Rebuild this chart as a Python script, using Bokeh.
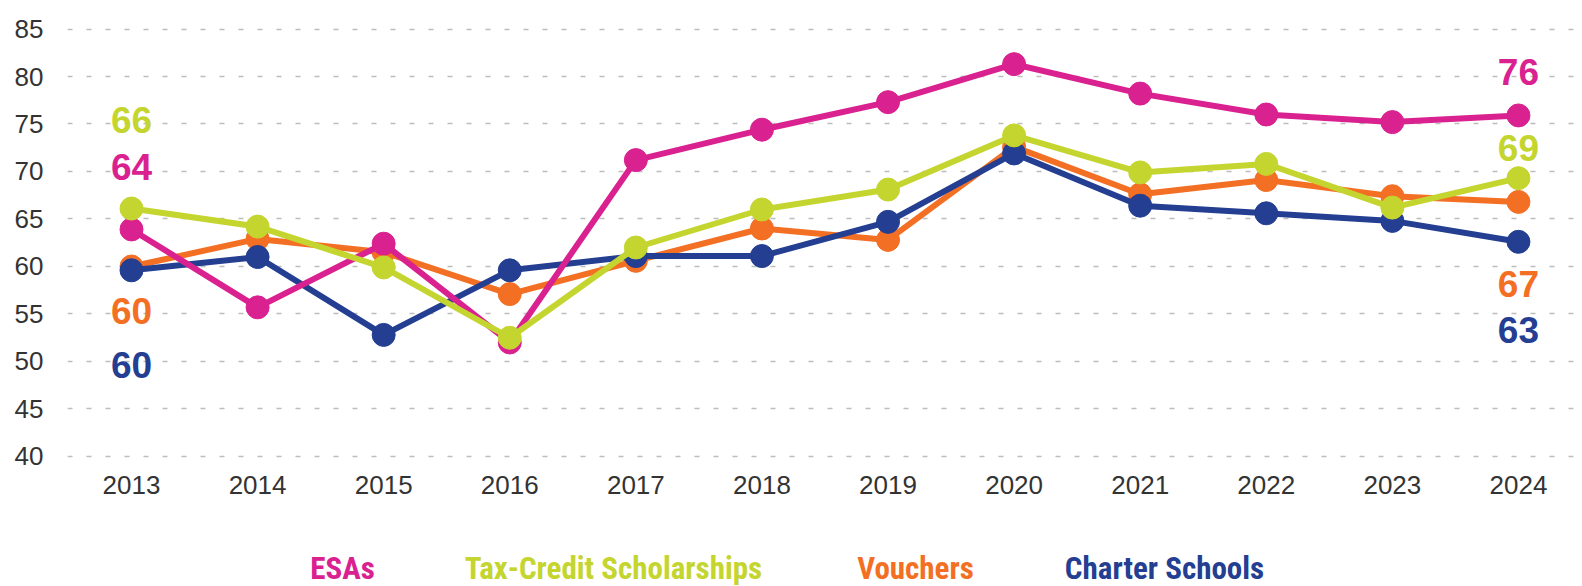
from bokeh.plotting import figure
from bokeh.models import ColumnDataSource, FixedTicker, Range1d
from bokeh.layouts import column
from bokeh.core.properties import value
from bokeh.embed import file_html
from bokeh.resources import INLINE

years = [2013, 2014, 2015, 2016, 2017, 2018, 2019, 2020, 2021, 2022, 2023, 2024]
esas = [63.9, 55.7, 62.4, 52.0, 71.2, 74.4, 77.3, 81.3, 78.2, 76.0, 75.2, 75.9]
tax_credit = [66.1, 64.2, 59.9, 52.5, 62.0, 66.0, 68.1, 73.8, 69.9, 70.8, 66.2, 69.3]
vouchers = [60.0, 62.9, 61.5, 57.1, 60.6, 64.0, 62.8, 72.6, 67.6, 69.1, 67.4, 66.8]
charter = [59.6, 61.0, 52.8, 59.6, 61.1, 61.1, 64.7, 71.9, 66.4, 65.6, 64.8, 62.6]

series_names = ["ESAs", "Tax-Credit Scholarships", "Vouchers", "Charter Schools"]
first_labels = ["64", "66", "60", "60"]
last_labels = ["76", "69", "67", "63"]
y_ticks = [40, 45, 50, 55, 60, 65, 70, 75, 80, 85]

colors = ["#DA2190", "#C4D52F", "#F36F24", "#243E92"]
series = [esas, tax_credit, vouchers, charter]
# pixel offsets of the end labels (style)
first_off = [-62, -89, 45, 95]
last_off = [-43, -30, 82, 88]
draw_order = [2, 3, 0, 1]

p = figure(width=1582, height=510, output_backend="svg", toolbar_location=None,
           x_range=Range1d(2012.4924, 2024.508), y_range=Range1d(39.368, 87.158),
           min_border_left=67, min_border_right=0, min_border_top=8, min_border_bottom=48)
p.outline_line_color = None
p.background_fill_color = "white"
p.border_fill_color = "white"

p.xgrid.grid_line_color = None
p.ygrid.grid_line_color = "#BDBDBD"
p.ygrid.grid_line_width = 1.5
p.ygrid.grid_line_dash = "5 14"
p.ygrid.ticker = FixedTicker(ticks=y_ticks)

p.xaxis.ticker = FixedTicker(ticks=years)
p.yaxis.ticker = FixedTicker(ticks=y_ticks)
for ax in (p.xaxis, p.yaxis):
    ax.axis_line_color = None
    ax.major_tick_line_color = None
    ax.minor_tick_line_color = None
    ax.major_tick_out = 0
    ax.major_tick_in = 0
    ax.major_label_text_font = "Liberation Sans"
    ax.major_label_text_font_size = "26px"
    ax.major_label_text_color = "#333333"
p.xaxis.major_label_standoff = 13
p.yaxis.major_label_standoff = 24

for i in draw_order:
    src = ColumnDataSource(dict(x=years, y=series[i]))
    p.line("x", "y", source=src, line_color=colors[i], line_width=6)
    p.scatter("x", "y", source=src, size=23, fill_color=colors[i], line_color=colors[i])

for i in range(4):
    p.text(x=[years[0]], y=[series[i][0]], text=[first_labels[i]], y_offset=first_off[i],
           text_color=colors[i], text_font=value("Liberation Sans"), text_font_style="bold",
           text_font_size="37px", text_align="center", text_baseline="middle")
    p.text(x=[years[-1]], y=[series[i][-1]], text=[last_labels[i]], y_offset=last_off[i],
           text_color=colors[i], text_font=value("Liberation Sans"), text_font_style="bold",
           text_font_size="37px", text_align="center", text_baseline="middle")

# legend strip below the chart; its frame is aligned with the chart's frame (x from 67 to 1582 px)
leg = figure(width=1582, height=76, output_backend="svg", toolbar_location=None,
             x_range=Range1d(67, 1582), y_range=Range1d(0, 76),
             min_border_left=67, min_border_right=0, min_border_top=0, min_border_bottom=0)
leg.axis.visible = False
leg.grid.visible = False
leg.outline_line_color = None
leg.background_fill_color = "white"
leg.border_fill_color = "white"
legend_cx = [342, 613, 915, 1164]
leg.text(x=legend_cx, y=[18] * 4, text=series_names, text_color=colors,
         text_font=value("'Roboto Condensed', 'DejaVu Sans Condensed', Roboto, sans-serif"),
         text_font_style="bold",
         text_font_size="31px", text_align="center", text_baseline="middle")

layout = column(p, leg, spacing=0)
open("out.html", "w").write(file_html(layout, INLINE))
